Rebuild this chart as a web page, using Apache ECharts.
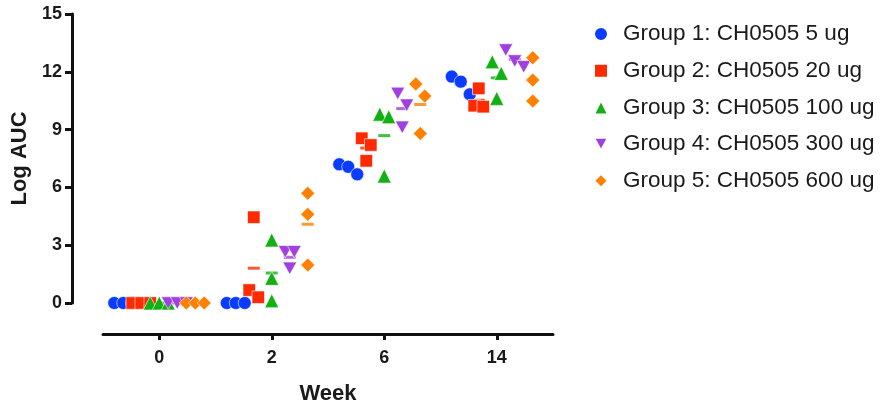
<!DOCTYPE html>
<html>
<head>
<meta charset="utf-8">
<script src="https://cdn.jsdelivr.net/npm/echarts@6/dist/echarts.min.js"></script>
<style>html,body{margin:0;padding:0;background:#fff}#c{width:883px;height:407px}</style>
</head>
<body>
<div id="c"></div>
<script>
// ---- data ----
const weeks = ['0', '2', '6', '14'];
const groupNames = ['Group 1: CH0505 5 ug', 'Group 2: CH0505 20 ug', 'Group 3: CH0505 100 ug', 'Group 4: CH0505 300 ug', 'Group 5: CH0505 600 ug'];
// values per week (0,2,6,14), three animals each
const group1 = [[0, 0, 0], [0, 0, 0], [7.2, 6.68, 7.07], [11.75, 11.49, 10.83]];
const group2 = [[0, 0, 0], [4.45, 0.67, 0.3], [8.55, 8.2, 7.38], [11.14, 10.24, 10.19]];
const group3 = [[0, 0, 0], [3.27, 1.28, 0.12], [9.8, 9.67, 6.59], [12.52, 11.92, 10.62]];
const group4 = [[0, 0, 0], [2.66, 2.66, 1.8], [10.88, 10.27, 9.12], [13.13, 12.56, 12.26]];
const group5 = [[0, 0, 0], [5.69, 4.6, 1.97], [11.37, 10.74, 8.8], [12.73, 11.57, 10.48]];
const yTicks = [0, 3, 6, 9, 12, 15];

// ---- styling / layout ----
const groups = [group1, group2, group3, group4, group5];
const colors = ['#0a3cff', '#ff2a00', '#12b012', '#a040e0', '#ff8000'];
const symbols = ['circle', 'rect', 'triangle', 'path://M0,0 L10,0 L5,9 Z', 'diamond'];
const sizes = [13, 12.5, 14, [14, 12.5], 14];
const FONT = 'Liberation Sans, Arial, Helvetica, sans-serif';
const GRID = {left: 103, right: 330, top: 14, bottom: 104};
const X_MIN = -0.5, X_MAX = 3.5, Y_MIN = 0, Y_MAX = 15;
const pxPerX = (883 - GRID.left - GRID.right) / (X_MAX - X_MIN);
const pxPerY = (407 - GRID.top - GRID.bottom) / (Y_MAX - Y_MIN);
const groupGapPx = 18, stepPx = 9, clusterPx = 14;

function swarm(vals, center) {
  const sorted = vals.slice().sort((a, b) => b - a);
  const clusters = [];
  sorted.forEach(v => {
    const last = clusters[clusters.length - 1];
    if (last && (last[last.length - 1] - v) * pxPerY < clusterPx) last.push(v);
    else clusters.push([v]);
  });
  const out = [];
  clusters.forEach(cl => {
    cl.forEach((v, j) => {
      out.push([center + (j - (cl.length - 1) / 2) * stepPx / pxPerX, v]);
    });
  });
  return out;
}

const series = [];
groups.forEach((g, gi) => {
  const pts = [], means = [];
  g.forEach((vals, wi) => {
    const center = wi + (gi - 2) * groupGapPx / pxPerX;
    swarm(vals, center).forEach(p => pts.push(p));
    const m = vals.reduce((a, b) => a + b, 0) / vals.length;
    means.push([center, m]);
  });
  series.push({
    name: 'mean' + gi, type: 'scatter', data: means, symbol: 'rect', symbolSize: [12, 3],
    itemStyle: {color: colors[gi]}, z: 2, silent: true
  });
  series.push({
    name: groupNames[gi], type: 'scatter', data: pts, symbol: symbols[gi], symbolSize: sizes[gi],
    itemStyle: {color: colors[gi], opacity: 1, borderColor: '#fff', borderWidth: 0.6}, z: 3
  });
});

const chart = echarts.init(document.getElementById('c'), null, {renderer: 'canvas'});
chart.setOption({
  animation: false,
  backgroundColor: '#fff',
  grid: Object.assign({outerBoundsMode: 'none', containLabel: false}, GRID),
  legend: {
    data: groupNames, orient: 'vertical', left: 588, top: 17.5,
    itemWidth: 14, itemHeight: 14, itemGap: 13.7,
    textStyle: {fontFamily: FONT, fontSize: 22.5, color: '#1a1a1a', lineHeight: 22, padding: [0, 0, 0, 10]}
  },
  xAxis: {
    type: 'value', min: X_MIN, max: X_MAX, offset: 31,
    name: 'Week', nameLocation: 'middle', nameGap: 49,
    nameTextStyle: {fontFamily: FONT, fontSize: 22, fontWeight: 'bold', color: '#1a1a1a'},
    axisLine: {show: true, onZero: false, lineStyle: {color: '#111', width: 3}},
    axisTick: {show: true, length: 6, lineStyle: {color: '#111', width: 3}, customValues: [0, 1, 2, 3]},
    axisLabel: {customValues: [0, 1, 2, 3], formatter: v => weeks[Math.round(v)], margin: 15,
      fontFamily: FONT, fontSize: 18, fontWeight: 'bold', color: '#1a1a1a'},
    splitLine: {show: false}
  },
  yAxis: {
    type: 'value', min: Y_MIN, max: Y_MAX, interval: 3, offset: 31,
    name: 'Log AUC', nameLocation: 'middle', nameGap: 37,
    nameTextStyle: {fontFamily: FONT, fontSize: 22, fontWeight: 'bold', color: '#1a1a1a'},
    axisLine: {show: true, onZero: false, lineStyle: {color: '#111', width: 3}},
    axisTick: {show: true, length: 7, lineStyle: {color: '#111', width: 3}},
    axisLabel: {margin: 10, fontFamily: FONT, fontSize: 18, fontWeight: 'bold', color: '#1a1a1a',
      formatter: v => (yTicks.indexOf(v) >= 0 ? String(v) : '')},
    splitLine: {show: false}
  },
  series: series
});
</script>
</body>
</html>
